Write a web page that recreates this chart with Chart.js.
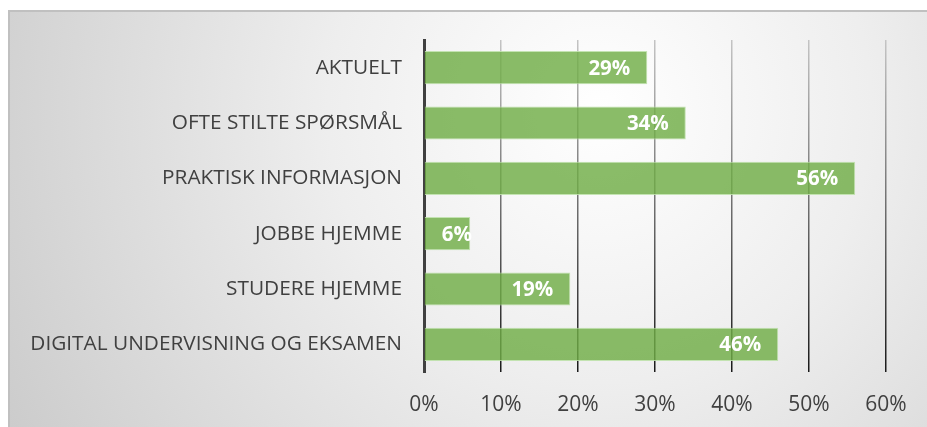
<!DOCTYPE html>
<html>
<head>
<meta charset="utf-8">
<script src="https://cdn.jsdelivr.net/npm/chart.js@4/dist/chart.umd.min.js"></script>
<style>
html,body{margin:0;padding:0;background:#ffffff;}
#wrap{width:927px;height:427px;position:relative;}
</style>
</head>
<body>
<div id="wrap"><canvas id="c" width="927" height="427"></canvas></div>
<script>
const categories = [
  "AKTUELT",
  "OFTE STILTE SPØRSMÅL",
  "PRAKTISK INFORMASJON",
  "JOBBE HJEMME",
  "STUDERE HJEMME",
  "DIGITAL UNDERVISNING OG EKSAMEN"
];
const values = [29, 34, 56, 6, 19, 46];
const xTicks = [0, 10, 20, 30, 40, 50, 60];

const FONT = "'Open Sans', sans-serif";

const bgPlugin = {
  id: 'bg',
  beforeDraw(chart) {
    const ctx = chart.ctx;
    const x0 = 9, y0 = 11, w = chart.width - x0, h = chart.height - y0;
    ctx.save();
    const g = ctx.createRadialGradient(600, 110, 0, 600, 110, 680);
    g.addColorStop(0, '#ffffff');
    g.addColorStop(0.4, '#eeeeee');
    g.addColorStop(1, '#cbcbcb');
    ctx.fillStyle = g;
    ctx.fillRect(x0, y0, w, h);
    ctx.strokeStyle = '#c0c0c0';
    ctx.lineWidth = 2;
    ctx.beginPath();
    ctx.moveTo(x0, chart.height);
    ctx.lineTo(x0, y0);
    ctx.lineTo(chart.width, y0);
    ctx.stroke();
    ctx.restore();
  }
};

const labelPlugin = {
  id: 'vlabels',
  afterDatasetsDraw(chart) {
    const ctx = chart.ctx;
    const meta = chart.getDatasetMeta(0);
    ctx.save();
    ctx.font = "bold 20.5px " + FONT;
    ctx.fillStyle = '#ffffff';
    ctx.textAlign = 'right';
    ctx.textBaseline = 'middle';
    meta.data.forEach((bar, i) => {
      const txt = values[i] + '%';
      const tw = ctx.measureText(txt).width;
      let right = bar.x - 17;
      if (right - tw < bar.base + 17) right = bar.base + 17 + tw;
      ctx.fillText(txt, right, bar.y + 1);
    });
    ctx.restore();
  }
};

function gridColor(context) {
  const chart = context.chart;
  const area = chart.chartArea;
  if (!area) return '#555555';
  const g = chart.ctx.createLinearGradient(0, area.top, 0, area.bottom);
  g.addColorStop(0, '#c4c4c4');
  g.addColorStop(1, '#1a1a1a');
  return g;
}

new Chart(document.getElementById('c'), {
  type: 'bar',
  data: {
    labels: categories,
    datasets: [{
      data: values,
      backgroundColor: 'rgba(112,173,71,0.82)',
      borderColor: 'rgba(190,225,170,0.9)',
      borderWidth: 1,
      borderSkipped: 'start',
      categoryPercentage: 1,
      barPercentage: 0.6
    }]
  },
  options: {
    indexAxis: 'y',
    responsive: false,
    animation: false,
    devicePixelRatio: 1,
    layout: { padding: { left: 9, top: 40, right: 41, bottom: 0 } },
    plugins: { legend: { display: false }, tooltip: { enabled: false } },
    scales: {
      x: {
        min: 0, max: 60,
        afterBuildTicks(scale) { scale.ticks = xTicks.map(v => ({ value: v })); },
        afterFit(scale) { scale.height = 55; },
        ticks: {
          callback: v => v + '%',
          color: '#404040',
          font: { family: FONT, size: 21 },
          padding: 20,
          maxRotation: 0
        },
        grid: { color: gridColor, lineWidth: 1.5, drawTicks: false },
        border: { display: false }
      },
      y: {
        afterFit(scale) { scale.width = 415; },
        ticks: {
          color: '#404040',
          font: { family: FONT, size: 20.8 },
          padding: 22
        },
        grid: { display: false, drawTicks: false },
        border: { display: true, color: '#404040', width: 3 }
      }
    }
  },
  plugins: [bgPlugin, labelPlugin]
});
</script>
</body>
</html>
